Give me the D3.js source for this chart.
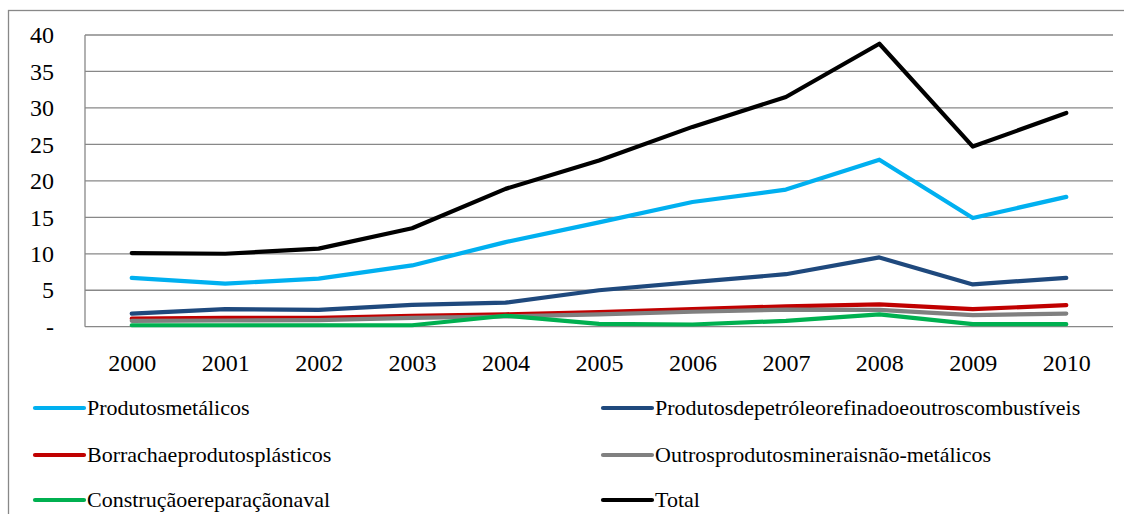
<!DOCTYPE html>
<html>
<head>
<meta charset="utf-8">
<script src="https://cdn.jsdelivr.net/npm/d3@7"></script>
<style>
  html, body { margin: 0; padding: 0; background: #fff; }
  svg { display: block; }
  text { font-family: "Liberation Serif", "Times New Roman", serif; fill: #000; }
</style>
</head>
<body>
<svg id="chart" width="1124" height="514"></svg>
<script>
// Years on the horizontal axis
const years = ["2000", "2001", "2002", "2003", "2004", "2005", "2006", "2007", "2008", "2009", "2010"];

// Series values (one per year)
const produtosMetalicos = [6.7, 5.9, 6.6, 8.4, 11.6, 14.3, 17.1, 18.8, 22.9, 14.9, 17.8];
const produtosPetroleo  = [1.8, 2.4, 2.3, 3.0, 3.3, 5.0, 6.1, 7.2, 9.5, 5.8, 6.7];
const borrachaPlasticos = [1.1, 1.2, 1.2, 1.5, 1.7, 2.0, 2.4, 2.8, 3.05, 2.4, 2.95];
const mineraisNaoMetal  = [0.8, 0.85, 0.9, 1.2, 1.4, 1.7, 2.05, 2.35, 2.3, 1.6, 1.8];
const construcaoNaval   = [0.2, 0.2, 0.2, 0.2, 1.5, 0.4, 0.3, 0.8, 1.7, 0.35, 0.35];
const total             = [10.1, 10.0, 10.7, 13.5, 18.9, 22.8, 27.4, 31.5, 38.8, 24.7, 29.3];

// Y axis ticks
const yTicks = [0, 5, 10, 15, 20, 25, 30, 35, 40];

const series = [
  { name: "Produtosmetálicos", values: produtosMetalicos, color: "#00B0F0" },
  { name: "Produtosdepetróleorefinadoeoutroscombustíveis", values: produtosPetroleo, color: "#1F497D" },
  { name: "Borrachaeprodutosplásticos", values: borrachaPlasticos, color: "#C00000" },
  { name: "Outrosprodutosmineraisnão-metálicos", values: mineraisNaoMetal, color: "#808080" },
  { name: "Construçãoereparaçãonaval", values: construcaoNaval, color: "#00B050" },
  { name: "Total", values: total, color: "#000000" }
];

const svg = d3.select("#chart");
const plot = { left: 85, right: 1113, top: 35, bottom: 326.7 };
const gridColor = "#888888";

// Chart frame
svg.append("rect")
  .attr("x", 8.5).attr("y", 10.5)
  .attr("width", 1130).attr("height", 520)
  .attr("fill", "none").attr("stroke", gridColor).attr("stroke-width", 1.3);

const x = d3.scalePoint().domain(years).range([plot.left, plot.right]).padding(0.5);
const y = d3.scaleLinear().domain([0, 40]).range([plot.bottom, plot.top]);

// Horizontal gridlines
svg.append("g")
  .selectAll("line")
  .data(yTicks)
  .join("line")
  .attr("x1", plot.left).attr("x2", plot.right)
  .attr("y1", d => y(d)).attr("y2", d => y(d))
  .attr("stroke", gridColor).attr("stroke-width", 1.3);

// Vertical axis line
svg.append("line")
  .attr("x1", plot.left).attr("x2", plot.left)
  .attr("y1", y(40)).attr("y2", y(0))
  .attr("stroke", gridColor).attr("stroke-width", 1.3);

// Y axis labels
const yAxis = svg.append("g")
  .attr("transform", `translate(${plot.left},0)`)
  .call(d3.axisLeft(y).tickValues(yTicks).tickSize(0).tickPadding(31)
    .tickFormat(d => d === 0 ? "-" : d3.format("d")(d)));
yAxis.select(".domain").remove();
yAxis.selectAll("text").attr("font-size", 24)
  .style("font-family", "'Liberation Serif', 'Times New Roman', serif");

// X axis labels
const xAxis = svg.append("g")
  .attr("transform", `translate(0,${plot.bottom})`)
  .call(d3.axisBottom(x).tickSize(0).tickPadding(27));
xAxis.select(".domain").remove();
xAxis.selectAll("text").attr("font-size", 24)
  .style("font-family", "'Liberation Serif', 'Times New Roman', serif");

// Series lines
const line = d3.line()
  .x((d, i) => x(years[i]))
  .y(d => y(d));

svg.append("g")
  .selectAll("path")
  .data(series)
  .join("path")
  .attr("d", d => line(d.values))
  .attr("fill", "none")
  .attr("stroke", d => d.color)
  .attr("stroke-width", 4.2)
  .attr("stroke-linejoin", "round")
  .attr("stroke-linecap", "round");

// Legend: two columns, three rows
const legendCols = [33, 601];
const legendRows = [408, 455, 500];
const legend = svg.append("g")
  .selectAll("g")
  .data(series)
  .join("g")
  .attr("transform", (d, i) => `translate(${legendCols[i % 2]},${legendRows[Math.floor(i / 2)]})`);

legend.append("line")
  .attr("x1", 2).attr("x2", 51)
  .attr("y1", 0).attr("y2", 0)
  .attr("stroke", d => d.color)
  .attr("stroke-width", 4.2)
  .attr("stroke-linecap", "round");

legend.append("text")
  .attr("x", 54)
  .attr("y", 0)
  .attr("dy", "0.33em")
  .attr("font-size", 22)
  .text(d => d.name);
</script>
</body>
</html>
